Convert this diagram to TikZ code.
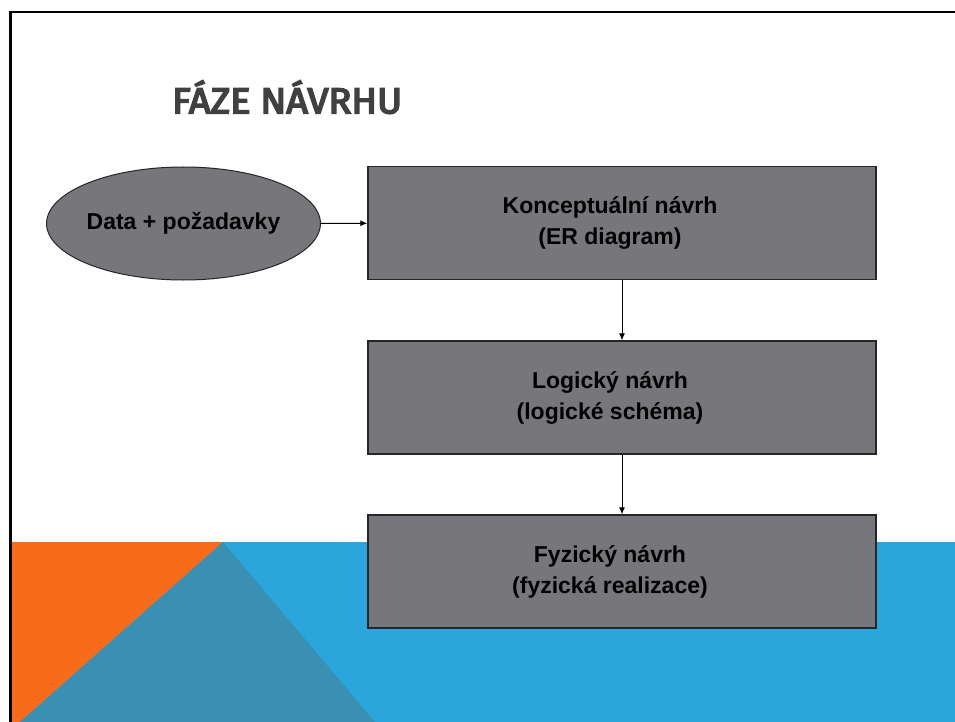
\documentclass[tikz,border=0pt]{standalone}
\usepackage{fontspec}
\setmainfont{Liberation Sans}
\newfontfamily\titlefont{Fira Sans}[FakeBold=4.5]
\usetikzlibrary{shapes.geometric,arrows.meta}
\definecolor{boxgray}{HTML}{77777B}
\definecolor{bandblue}{HTML}{2AA6DC}
\definecolor{bandorange}{HTML}{F86B1A}
\definecolor{bandmix}{HTML}{3A90B2}
\definecolor{titlegray}{HTML}{404040}
\tikzset{
  stagetext/.style={align=center, inner sep=0pt, xshift=-12pt,
    font=\fontsize{23}{31}\selectfont\bfseries},
  stagebox/.style={draw=black!85, line width=1.3pt, fill=boxgray, minimum width=508pt,
    minimum height=113pt, inner sep=0pt},
  sourceblob/.style={ellipse, draw=black!85, line width=1pt, fill=boxgray, minimum width=265pt,
    minimum height=113pt, inner sep=0pt, font=\fontsize{23}{28}\selectfont\bfseries},
  flow/.style={draw=black, line width=1pt, -{Latex[length=7pt,width=6pt]}}
}
\begin{document}
\begin{tikzpicture}[x=1pt,y=-1pt]
\useasboundingbox (0,0) rectangle (955,722);
\fill[white] (0,0) rectangle (955,722);
% decorative band along the bottom
\fill[bandblue] (12,542) rectangle (955,722);
\fill[bandorange] (12,542) -- (223,542) -- (12,729) -- cycle;
\fill[bandmix] (223,542) -- (20,722) -- (375,722) -- cycle;
% slide frame
\draw[black, line width=2.2pt] (10.5,722) -- (10.5,12) -- (955,12);
% heading
\node[anchor=base west, inner sep=0pt, text=titlegray, font=\titlefont\fontsize{36}{40}\selectfont]
  (title) at (172,113.3) {\scalebox{1.05}[1]{FÁZE NÁVRHU}};
% design stages
\node[sourceblob] (req) at (183.5,223.5) {Data + požadavky};
\node[stagebox, label={[stagetext]center:Konceptuální návrh\\(ER diagram)}] (concept) at (622,223) {};
\node[stagebox, label={[stagetext]center:Logický návrh\\(logické schéma)}] (logic) at (622,397.5) {};
\node[stagebox, label={[stagetext]center:Fyzický návrh\\(fyzická realizace)}] (phys) at (622,571.5) {};
% connectors
\draw[flow] (req) -- (concept);
\draw[flow] (concept) -- (logic);
\draw[flow] (logic) -- (phys);
\end{tikzpicture}
\end{document}
